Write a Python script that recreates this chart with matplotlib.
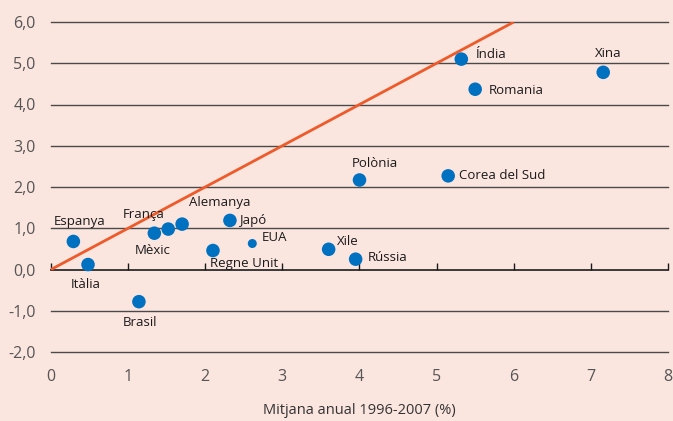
import matplotlib
matplotlib.use("Agg")
import matplotlib.pyplot as plt

# data
countries = ["Espanya", "Itàlia", "Brasil", "Mèxic", "França", "Alemanya", "Japó",
             "Regne Unit", "EUA", "Xile", "Rússia", "Polònia", "Corea del Sud",
             "Índia", "Romania", "Xina"]
x_vals = [0.29, 0.48, 1.14, 1.34, 1.52, 1.70, 2.32, 2.10, 2.61, 3.60, 3.95, 4.00, 5.15, 5.32, 5.50, 7.16]
y_vals = [0.68, 0.12, -0.78, 0.88, 0.98, 1.10, 1.19, 0.46, 0.63, 0.49, 0.25, 2.17, 2.27, 5.10, 4.37, 4.78]
# label placement (pixel offsets, alignment)
label_pos = {
    "Espanya": (6, 20, "center"), "Itàlia": (-2, -20, "center"), "Brasil": (1, -21, "center"),
    "Mèxic": (-2, -17, "center"), "França": (-25, 15, "center"), "Alemanya": (38, 22, "center"),
    "Japó": (9, 0, "left"), "Regne Unit": (31, -13, "center"), "EUA": (9, 6, "left"),
    "Xile": (8, 8, "left"), "Rússia": (12, 2, "left"), "Polònia": (15, 16, "center"),
    "Corea del Sud": (11, 0, "left"), "Índia": (15, 5, "left"), "Romania": (14, -1, "left"),
    "Xina": (5, 19, "center"),
}
line_x = [0, 6]
line_y = [0, 6]
x_ticks = list(range(0, 9))
y_ticks = list(range(-2, 7))

bg = "#fbe5df"
blue = "#0070c0"
orange = "#ee5a2a"

plt.rcParams["font.family"] = ["Open Sans", "DejaVu Sans"]

fig = plt.figure(figsize=(6.73, 4.21), dpi=100, facecolor=bg)
ax = fig.add_axes([51 / 673, 69 / 421, 617 / 673, 330 / 421], facecolor=bg)
ax.set_xlim(0, 8)
ax.set_ylim(-2, 6)

for yv in y_ticks:
    if yv != 0:
        ax.axhline(yv, color="#4a4a4a", lw=1, zorder=1, clip_on=False)

ax.plot(line_x, line_y, color=orange, lw=2, zorder=2, solid_capstyle="butt")

sizes = [42 if c == "EUA" else 95 for c in countries]
ax.scatter(x_vals, y_vals, s=sizes, color=blue, zorder=3, linewidths=0)

for c, xv, yv in zip(countries, x_vals, y_vals):
    dx, dy, ha = label_pos[c]
    ax.annotate(c, (xv, yv), xytext=(dx, dy), textcoords="offset pixels",
                ha=ha, va="center", fontsize=9.5, color="#1a1a1a", zorder=4)

for s in ax.spines.values():
    s.set_visible(False)

ax.set_xticks(x_ticks)
ax.set_xticklabels([str(v) for v in x_ticks])
ax.set_yticks(y_ticks)
ax.set_yticklabels([f"{v:.1f}".replace(".", ",") for v in y_ticks])
ax.tick_params(axis="both", length=0, labelsize=11.5, labelcolor="#555555")
ax.tick_params(axis="x", pad=12)
ax.tick_params(axis="y", pad=11)

# zero axis with small upward ticks
sec = ax.secondary_xaxis(0.25)
sec.set_xticks(x_ticks)
sec.tick_params(direction="in", length=5, width=1, color="#1a1a1a", labelbottom=False)
sec.spines["bottom"].set_color("#1a1a1a")
sec.spines["bottom"].set_linewidth(1.2)

ax.set_xlabel("Mitjana anual 1996-2007 (%)", fontsize=10.5, color="#333333", labelpad=13)

fig.savefig("out.png", dpi=100, facecolor=bg)
